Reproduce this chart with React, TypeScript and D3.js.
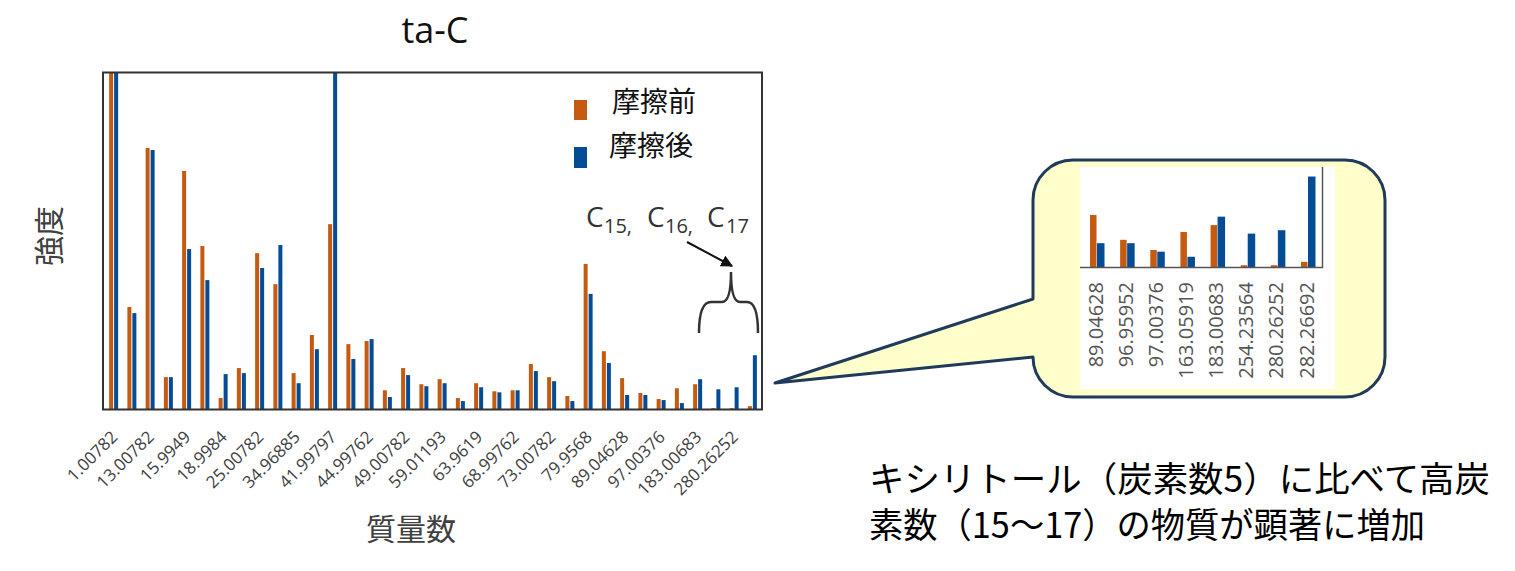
import React from "react";
import * as d3 from "d3";

const categories = [
  "1.00782", "12", "13.00782", "14.01565", "15.9949", "17.00274", "18.9984", "24",
  "25.00782", "26.01565", "34.96885", "36.9659", "41.99797", "43.98983", "44.99762", "47.96694",
  "49.00782", "50.01565", "59.01193", "62.96356", "63.9619", "66.9683", "68.99762", "71.01311",
  "73.00782", "78.95884", "79.9568", "80.96463", "89.04628", "96.95952", "97.00376", "163.05919",
  "183.00683", "254.23564", "280.26252", "282.26692",
];
const before = [
  1.0, 0.304, 0.776, 0.096, 0.708, 0.485, 0.034, 0.123, 0.464, 0.372, 0.108, 0.221, 0.55, 0.194,
  0.203, 0.057, 0.123, 0.075, 0.09, 0.034, 0.078, 0.054, 0.057, 0.135, 0.096, 0.04, 0.432, 0.173,
  0.093, 0.049, 0.031, 0.063, 0.075, 0.004, 0.004, 0.01,
];
const after = [
  1.0, 0.286, 0.77, 0.096, 0.476, 0.384, 0.105, 0.108, 0.42, 0.488, 0.078, 0.179, 1.0, 0.15,
  0.209, 0.037, 0.102, 0.069, 0.078, 0.025, 0.066, 0.051, 0.057, 0.114, 0.084, 0.025, 0.343, 0.138,
  0.043, 0.043, 0.028, 0.019, 0.09, 0.06, 0.066, 0.161,
];
const insetStart = 28;
const seriesNames = ["摩擦前", "摩擦後"];
const title = "ta-C";
const yLabel = "強度";
const xLabel = "質量数";
const noteLines = ["キシリトール（炭素数5）に比べて高炭", "素数（15～17）の物質が顕著に増加"];

const ORANGE = "#C55A11";
const BLUE = "#044C96";
const FRAME = "#333333";
const LATIN = "'Open Sans', 'Noto Sans', sans-serif";
const CJK = "'Noto Sans CJK JP', 'Noto Sans', sans-serif";

export default function App() {
  const left = 103, right = 762, top = 72.5, bottom = 409.5;
  const x = d3.scaleBand<string>().domain(categories).range([104.5, 761.5]);
  const y = d3.scaleLinear().domain([0, 1]).range([bottom, top]);
  const bw = 4;

  const insetCats = categories.slice(insetStart);
  const ix = d3.scalePoint<string>().domain(insetCats).range([1097, 1308]);
  const iy = d3.scaleLinear().domain([0, 0.18]).range([267.5, 267.5 - 0.18 * 565]);

  const callout =
    "M1073,160 H1345 A40,40 0 0 1 1385,200 V357 A40,40 0 0 1 1345,397 H1073 " +
    "A40,40 0 0 1 1033,357 L775,383 L1033,299 V200 A40,40 0 0 1 1073,160 Z";

  return (
    <svg width={1515} height={571} style={{ position: "absolute", left: 0, top: 0, background: "#fff" }}>
      <defs>
        <marker id="arr" viewBox="0 0 10 10" refX="9" refY="5" markerWidth="6" markerHeight="6" orient="auto">
          <path d="M0,0 L10,5 L0,10 Z" fill="#111" />
        </marker>
        <clipPath id="plotclip">
          <rect x={left} y={top} width={right - left} height={bottom - top} />
        </clipPath>
      </defs>

      <text x={435} y={43} textAnchor="middle" fontFamily={LATIN} fontSize={36} fill="#111">{title}</text>

      <g clipPath="url(#plotclip)">
        {categories.map((c, i) => {
          const cx = (x(c) as number) + x.bandwidth() / 2;
          return (
            <g key={c}>
              <rect x={cx - bw - 0.5} y={y(before[i])} width={bw} height={bottom - y(before[i])} fill={ORANGE} />
              <rect x={cx + 0.5} y={y(after[i])} width={bw} height={bottom - y(after[i])} fill={BLUE} />
            </g>
          );
        })}
      </g>
      <rect x={left} y={top} width={right - left} height={bottom - top} fill="none" stroke={FRAME} strokeWidth={2} />

      {categories.map((c, i) =>
        i % 2 === 0 ? (
          <text
            key={"t" + c}
            transform={`translate(${(x(c) as number) + x.bandwidth() / 2 + 5},438) rotate(-45)`}
            textAnchor="end"
            fontFamily={LATIN}
            fontSize={17}
            fill="#404040"
          >
            {c}
          </text>
        ) : null
      )}

      <text transform="translate(60,236) rotate(-90)" textAnchor="middle" fontFamily={CJK} fontSize={30} fill="#404040">{yLabel}</text>
      <text x={411} y={540} textAnchor="middle" fontFamily={CJK} fontSize={30} fill="#404040">{xLabel}</text>

      <rect x={574} y={100} width={13} height={20} fill={ORANGE} />
      <rect x={574} y={147} width={13} height={21} fill={BLUE} />
      <text x={612} y={112} fontFamily={CJK} fontSize={28} fill="#111">{seriesNames[0]}</text>
      <text x={609} y={156} fontFamily={CJK} fontSize={28} fill="#111">{seriesNames[1]}</text>

      <g fontFamily={LATIN} fill="#333">
        <text x={586} y={227} fontSize={28}>C</text>
        <text x={604} y={233} fontSize={20}>15,</text>
        <text x={647} y={227} fontSize={28}>C</text>
        <text x={665} y={233} fontSize={20}>16,</text>
        <text x={707} y={227} fontSize={28}>C</text>
        <text x={726} y={233} fontSize={20}>17</text>
      </g>
      <line x1={687} y1={242} x2={732} y2={266} stroke="#111" strokeWidth={2} markerEnd="url(#arr)" />
      <path
        d="M699,333 Q699,302 711,302 L722,302 Q731,302 731,272 Q731,302 740,302 L747,302 Q758,302 758,333"
        fill="none"
        stroke="#333"
        strokeWidth={2.5}
      />

      <path d={callout} fill="#FFFFCC" stroke="#1F3A5A" strokeWidth={3} strokeLinejoin="round" />
      <rect x={1080} y={167} width={255} height={222} fill="#fff" />
      {insetCats.map((c, j) => {
        const i = insetStart + j;
        const cx = ix(c) as number;
        return (
          <g key={"i" + c}>
            <rect x={cx - 7} y={iy(before[i])} width={6.5} height={267.5 - iy(before[i])} fill={ORANGE} />
            <rect x={cx} y={iy(after[i])} width={7.5} height={267.5 - iy(after[i])} fill={BLUE} />
            <text
              transform={`translate(${cx + 5.5},282) rotate(-90)`}
              textAnchor="end"
              fontFamily={LATIN}
              fontSize={20}
              fill="#555"
            >
              {c}
            </text>
          </g>
        );
      })}
      <line x1={1080} y1={267.5} x2={1323} y2={267.5} stroke="#555" strokeWidth={1.5} />
      <line x1={1322.5} y1={167} x2={1322.5} y2={268} stroke="#555" strokeWidth={1.5} />

      {noteLines.map((t, k) => (
        <text
          key={t}
          x={869}
          y={492 + k * 46}
          fontFamily={CJK}
          fontSize={35}
          fill="#000"
          textLength={k === 0 ? 621 : 556}
          lengthAdjust="spacingAndGlyphs"
        >
          {t}
        </text>
      ))}
    </svg>
  );
}
